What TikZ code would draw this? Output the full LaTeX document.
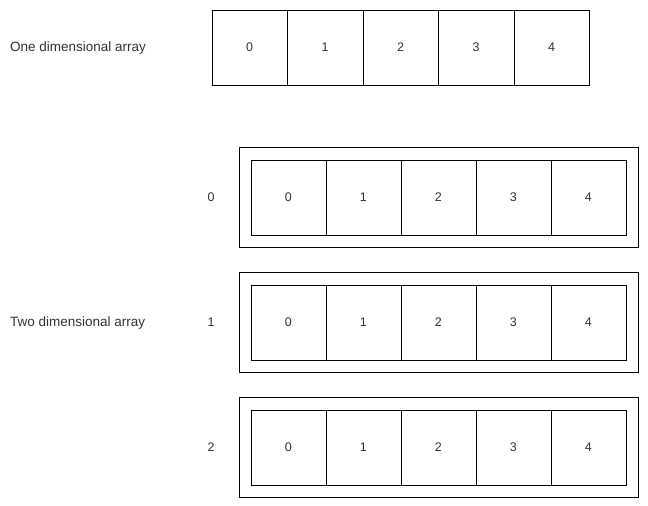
\documentclass[tikz,border=0pt]{standalone}
\usepackage{fontspec}
\setmainfont{Liberation Sans}
\definecolor{txt}{HTML}{333333}
\begin{document}
\begin{tikzpicture}[x=1pt,y=-1pt,
  cell/.style={draw=black,line width=0.8pt,minimum width=75.5pt,minimum height=75pt,inner sep=0pt,anchor=north west,font=\fontsize{12.5}{14}\selectfont,text=txt},
  cell2/.style={cell,minimum width=75pt},
  outer/.style={draw=black,line width=0.8pt,minimum width=399pt,minimum height=100pt,inner sep=0pt,anchor=north west},
  lbl/.style={font=\fontsize{13.5}{15}\selectfont,text=txt,inner sep=0pt},
  idx/.style={font=\fontsize{12.5}{14}\selectfont,text=txt,inner sep=0pt}]
\useasboundingbox (0,0) rectangle (648,506);
% one dimensional
\node[lbl,anchor=west] (l1) at (10,48) {One dimensional array};
\foreach \i in {0,...,4}{
  \node[cell] (a\i) at ({211.5+75.5*\i},9.5) {\i};
}
% two dimensional
\node[lbl,anchor=west] (l2) at (10,323) {Two dimensional array};
\foreach \r in {0,1,2}{
  \node[outer] (o\r) at (239,{147+125*\r}) {};
  \node[idx] (r\r) at (211,{197.5+125*\r}) {\r};
  \foreach \i in {0,...,4}{
    \node[cell2] (b\r\i) at ({250.5+75*\i},{159.5+125*\r}) {\i};
  }
}
\end{tikzpicture}
\end{document}
